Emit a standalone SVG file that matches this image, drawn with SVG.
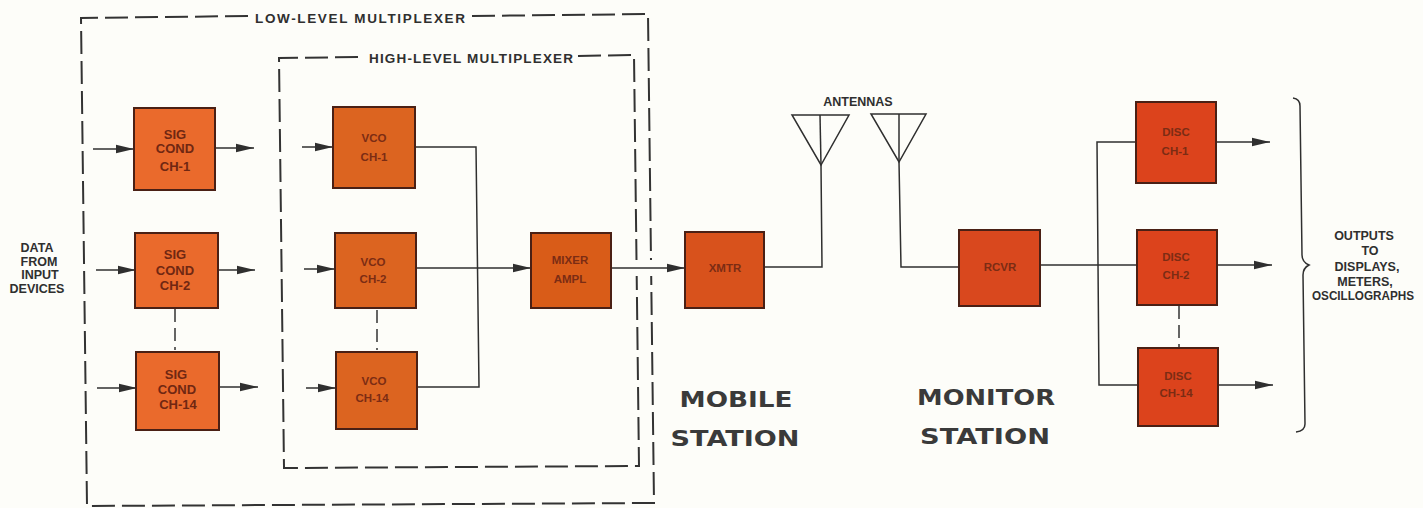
<svg xmlns="http://www.w3.org/2000/svg" width="1423" height="508" viewBox="0 0 1423 508">
<style>
.bg{fill:#fdfdf9}
.box{stroke:#4a2015;stroke-width:2}
.sig{fill:#ea6a2c}
.vco{fill:#dc6420}
.mix{fill:#d95c18}
.xm{fill:#d8521c}
.rc{fill:#d9481e}
.di{fill:#dc431c}
.bt{font:bold 11.5px "Liberation Sans",Arial,sans-serif;fill:#7b2c14;text-anchor:middle}
.bs{font:bold 13px "Liberation Sans",Arial,sans-serif;fill:#702712;text-anchor:middle}
.lb{font:bold 12.5px "Liberation Sans",Arial,sans-serif;fill:#2f2f2f;text-anchor:middle}
.mx{font:bold 13.5px "Liberation Sans",Arial,sans-serif;fill:#2f2f2f}
.st{font:bold 21px "DejaVu Sans",sans-serif;fill:#3a3a3a;text-anchor:middle}
.ln{fill:none;stroke:#2f2f2f;stroke-width:1.5}
.ar{fill:none;stroke:#2f2f2f;stroke-width:1.5;marker-end:url(#h)}
.da{fill:none;stroke:#333;stroke-width:2;stroke-dasharray:23 7}
.ds{fill:none;stroke:#333;stroke-width:1.5;stroke-dasharray:13 6}
</style>
<defs>
<marker id="h" markerUnits="userSpaceOnUse" markerWidth="18" markerHeight="10" refX="18" refY="5" orient="auto">
<path d="M0 0.8L18 5L0 9.2Z" fill="#2f2f2f"/>
</marker>
</defs>
<rect class="bg" width="1423" height="508"/>
<g id="connectors">
<path class="ar" d="M93 149H134"/><path class="ar" d="M216 148H254"/>
<path class="ar" d="M96 270H136"/><path class="ar" d="M218 270H255"/>
<path class="ar" d="M97 388H137"/><path class="ar" d="M219 387H258"/>
<path class="ar" d="M302 147H333"/><path class="ar" d="M304 269H335"/><path class="ar" d="M306 388H336"/>
<path class="ln" d="M415 147H476L479 387H418"/>
<path class="ar" d="M416 268H531"/>
<path class="ar" d="M611 268H685"/>
<path class="ln" d="M764 267H822L821 165"/>
<path class="ln" d="M899 162L901 267H959"/>
<path class="ln" d="M1040 265H1137"/>
<path class="ln" d="M1136 142H1097L1099 385H1138"/>
<path class="ar" d="M1216 142H1270"/><path class="ar" d="M1217 265H1272"/><path class="ar" d="M1218 385H1273"/>
<path class="ds" d="M175 309V350"/><path class="ds" d="M377 310V350"/><path class="ds" d="M1179 306V347"/>
</g>
<g id="low-level-multiplexer">
<path class="da" d="M248 16L81 18L87 506L654 503L651.2 276"/>
<path class="da" d="M472 16L648 14L651 260"/>
<text class="mx" x="255" y="23" textLength="210" lengthAdjust="spacing">LOW-LEVEL MULTIPLEXER</text>
</g>
<g id="high-level-multiplexer">
<path class="da" d="M358 57L279 58L284 468L639 466L636.7 276"/>
<path class="da" d="M578 56L634 55L636.5 260"/>
<text class="mx" x="369" y="63" textLength="204" lengthAdjust="spacing">HIGH-LEVEL MULTIPLEXER</text>
</g>
<g id="sig1"><rect class="box sig" x="134" y="108" width="81" height="82"/><text class="bs" x="175" y="139">SIG</text><text class="bs" x="175" y="153">COND</text><text class="bs" x="175" y="171">CH-1</text></g>
<g id="sig2"><rect class="box sig" x="135" y="233" width="83" height="75"/><text class="bs" x="175" y="259">SIG</text><text class="bs" x="175" y="275">COND</text><text class="bs" x="175" y="290">CH-2</text></g>
<g id="sig14"><rect class="box sig" x="136" y="352" width="83" height="78"/><text class="bs" x="176" y="379">SIG</text><text class="bs" x="177" y="394">COND</text><text class="bs" x="178" y="409">CH-14</text></g>
<g id="vco1"><rect class="box vco" x="333" y="107" width="82" height="81"/><text class="bt" x="374" y="142">VCO</text><text class="bt" x="374" y="161">CH-1</text></g>
<g id="vco2"><rect class="box vco" x="335" y="233" width="81" height="75"/><text class="bt" x="373" y="266">VCO</text><text class="bt" x="373" y="283">CH-2</text></g>
<g id="vco14"><rect class="box vco" x="336" y="352" width="81" height="77"/><text class="bt" x="374" y="385">VCO</text><text class="bt" x="372" y="402">CH-14</text></g>
<g id="mixer"><rect class="box mix" x="531" y="233" width="80" height="75"/><text class="bt" x="570" y="264">MIXER</text><text class="bt" x="570" y="283">AMPL</text></g>
<g id="xmtr"><rect class="box xm" x="685" y="232" width="79" height="76"/><text class="bt" x="725" y="272">XMTR</text></g>
<g id="antenna1"><path class="ln" d="M792 115H849L821 165Z"/><path class="ln" d="M820 115L821 165"/></g>
<g id="antenna2"><path class="ln" d="M871 114H926L899 162Z"/><path class="ln" d="M899 114V162"/></g>
<text class="lb" x="858" y="106">ANTENNAS</text>
<g id="rcvr"><rect class="box rc" x="959" y="230" width="81" height="76"/><text class="bt" x="1000" y="271">RCVR</text></g>
<g id="disc1"><rect class="box di" x="1136" y="102" width="80" height="81"/><text class="bt" x="1176" y="136">DISC</text><text class="bt" x="1175" y="155">CH-1</text></g>
<g id="disc2"><rect class="box di" x="1137" y="230" width="80" height="75"/><text class="bt" x="1176" y="261">DISC</text><text class="bt" x="1176" y="279">CH-2</text></g>
<g id="disc14"><rect class="box di" x="1138" y="348" width="80" height="78"/><text class="bt" x="1178" y="380">DISC</text><text class="bt" x="1176" y="397">CH-14</text></g>
<path id="brace" class="ln" d="M1293 98Q1300 99 1300 106L1302 255Q1302 262 1309 265Q1303 268 1303 275L1305 424Q1305 431 1296 432"/>
<g id="input-label"><text class="lb" x="37" y="252">DATA</text><text class="lb" x="39" y="266">FROM</text><text class="lb" x="40" y="279">INPUT</text><text class="lb" x="37" y="293">DEVICES</text></g>
<g id="output-label"><text class="lb" x="1364" y="240">OUTPUTS</text><text class="lb" x="1370" y="255">TO</text><text class="lb" x="1367" y="271">DISPLAYS,</text><text class="lb" x="1365" y="286">METERS,</text><text class="lb" x="1363" y="300" textLength="102" lengthAdjust="spacingAndGlyphs">OSCILLOGRAPHS</text></g>
<g id="station-labels">
<text class="st" x="736" y="407" textLength="113" lengthAdjust="spacingAndGlyphs">MOBILE</text>
<text class="st" x="735" y="446" textLength="129" lengthAdjust="spacingAndGlyphs">STATION</text>
<text class="st" x="986" y="405" textLength="138" lengthAdjust="spacingAndGlyphs">MONITOR</text>
<text class="st" x="985" y="444" textLength="130" lengthAdjust="spacingAndGlyphs">STATION</text>
</g>
</svg>
